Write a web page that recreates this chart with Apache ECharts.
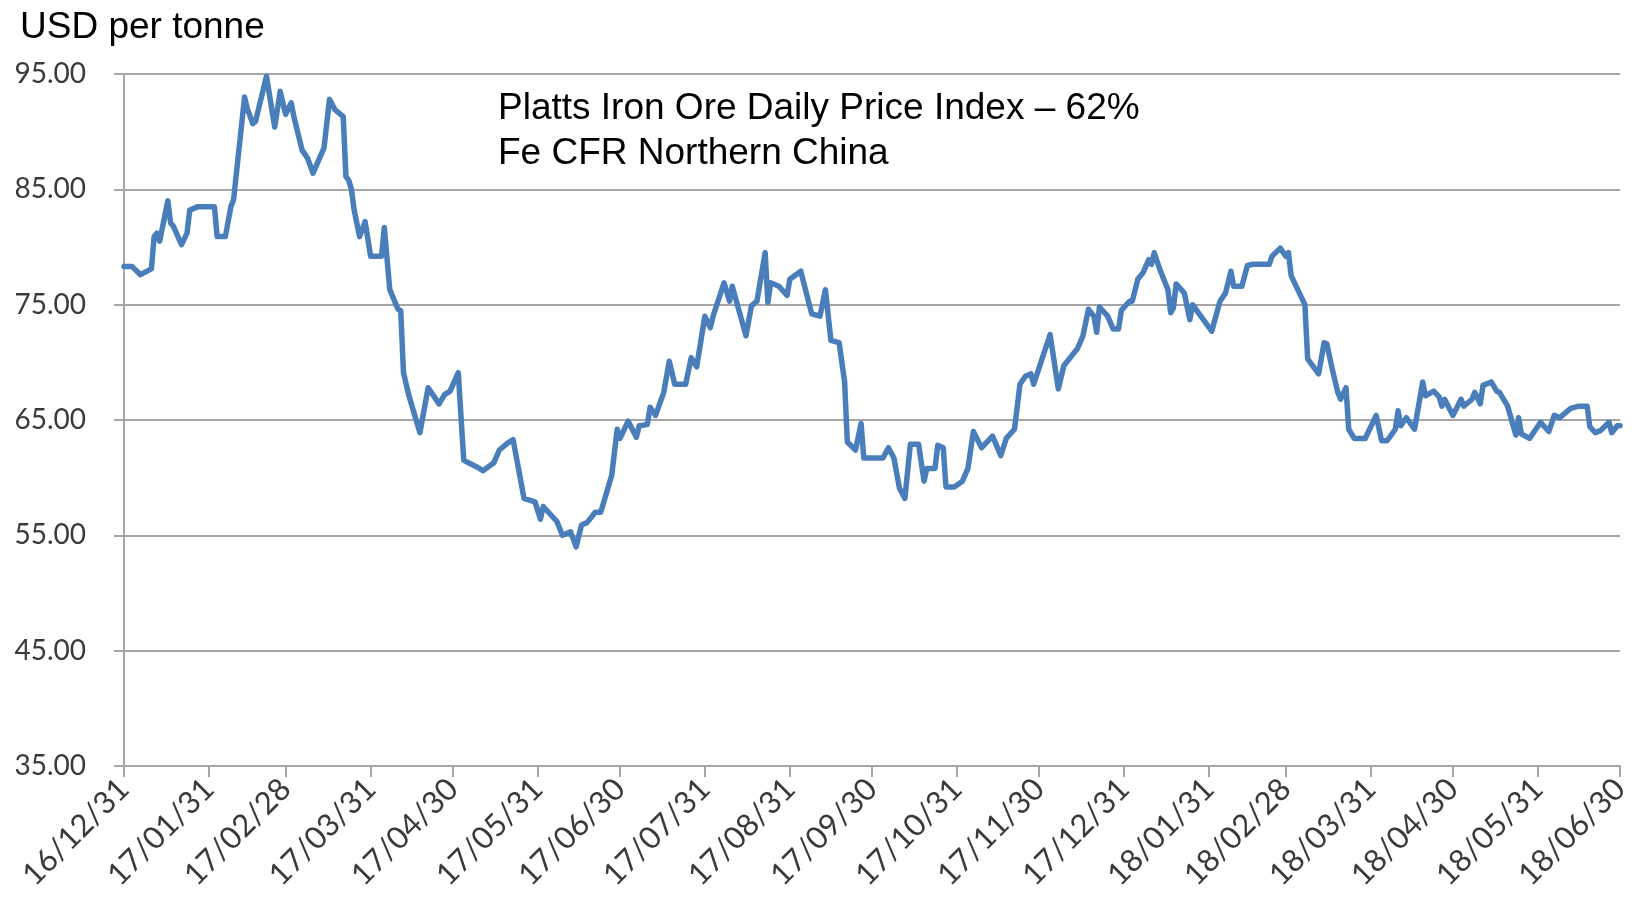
<!DOCTYPE html>
<html>
<head>
<meta charset="utf-8">
<title>Platts Iron Ore Daily Price Index</title>
<script src="https://cdn.jsdelivr.net/npm/echarts@6/dist/echarts.min.js"></script>
<style>
  html, body { margin: 0; padding: 0; background: #fff; }
  #main { width: 1642px; height: 907px; }
</style>
</head>
<body>
<div id="main"></div>
<script>
// month-end ticks on the x axis
var tickDates = [
    '2016-12-31', '2017-01-31', '2017-02-28', '2017-03-31', '2017-04-30', '2017-05-31',
    '2017-06-30', '2017-07-31', '2017-08-31', '2017-09-30', '2017-10-31', '2017-11-30',
    '2017-12-31', '2018-01-31', '2018-02-28', '2018-03-31', '2018-04-30', '2018-05-31',
    '2018-06-30'
];

// price points (USD per tonne)
var dates = [
    '2016-12-31', '2017-01-03', '2017-01-06', '2017-01-10', '2017-01-11', '2017-01-12', '2017-01-13',
    '2017-01-16', '2017-01-17', '2017-01-18', '2017-01-21', '2017-01-23', '2017-01-24', '2017-01-27',
    '2017-02-02', '2017-02-03', '2017-02-06', '2017-02-08', '2017-02-09', '2017-02-13', '2017-02-14',
    '2017-02-16', '2017-02-17', '2017-02-21', '2017-02-24', '2017-02-26', '2017-02-28', '2017-03-02',
    '2017-03-03', '2017-03-06', '2017-03-08', '2017-03-10', '2017-03-14', '2017-03-16', '2017-03-18',
    '2017-03-21', '2017-03-22', '2017-03-23', '2017-03-24', '2017-03-25', '2017-03-27', '2017-03-29',
    '2017-03-31', '2017-04-04', '2017-04-05', '2017-04-07', '2017-04-10', '2017-04-11', '2017-04-12',
    '2017-04-14', '2017-04-18', '2017-04-21', '2017-04-25', '2017-04-27', '2017-04-29', '2017-05-02',
    '2017-05-04', '2017-05-09', '2017-05-11', '2017-05-15', '2017-05-17', '2017-05-20', '2017-05-22',
    '2017-05-26', '2017-05-30', '2017-06-01', '2017-06-02', '2017-06-07', '2017-06-09', '2017-06-12',
    '2017-06-14', '2017-06-16', '2017-06-18', '2017-06-21', '2017-06-23', '2017-06-27', '2017-06-29',
    '2017-06-30', '2017-07-03', '2017-07-06', '2017-07-07', '2017-07-10', '2017-07-11', '2017-07-13',
    '2017-07-16', '2017-07-18', '2017-07-20', '2017-07-24', '2017-07-26', '2017-07-28', '2017-07-31',
    '2017-08-02', '2017-08-03', '2017-08-07', '2017-08-09', '2017-08-10', '2017-08-15', '2017-08-17',
    '2017-08-19', '2017-08-22', '2017-08-23', '2017-08-24', '2017-08-27', '2017-08-30', '2017-08-31',
    '2017-09-04', '2017-09-08', '2017-09-11', '2017-09-13', '2017-09-15', '2017-09-18', '2017-09-20',
    '2017-09-21', '2017-09-24', '2017-09-26', '2017-09-27', '2017-10-04', '2017-10-06', '2017-10-08',
    '2017-10-10', '2017-10-12', '2017-10-14', '2017-10-17', '2017-10-19', '2017-10-20', '2017-10-23',
    '2017-10-24', '2017-10-26', '2017-10-27', '2017-10-30', '2017-11-02', '2017-11-04', '2017-11-06',
    '2017-11-09', '2017-11-13', '2017-11-16', '2017-11-18', '2017-11-21', '2017-11-23', '2017-11-25',
    '2017-11-27', '2017-11-28', '2017-12-04', '2017-12-07', '2017-12-09', '2017-12-12', '2017-12-14',
    '2017-12-16', '2017-12-18', '2017-12-20', '2017-12-21', '2017-12-22', '2017-12-25', '2017-12-27',
    '2017-12-29', '2017-12-30', '2018-01-02', '2018-01-03', '2018-01-05', '2018-01-07', '2018-01-09',
    '2018-01-10', '2018-01-11', '2018-01-13', '2018-01-16', '2018-01-17', '2018-01-18', '2018-01-19',
    '2018-01-22', '2018-01-24', '2018-01-25', '2018-01-28', '2018-02-01', '2018-02-04', '2018-02-06',
    '2018-02-08', '2018-02-09', '2018-02-12', '2018-02-14', '2018-02-16', '2018-02-22', '2018-02-23',
    '2018-02-26', '2018-02-28', '2018-03-01', '2018-03-02', '2018-03-06', '2018-03-07', '2018-03-08',
    '2018-03-12', '2018-03-14', '2018-03-15', '2018-03-17', '2018-03-19', '2018-03-20', '2018-03-22',
    '2018-03-23', '2018-03-25', '2018-03-29', '2018-04-02', '2018-04-04', '2018-04-06', '2018-04-09',
    '2018-04-10', '2018-04-11', '2018-04-13', '2018-04-16', '2018-04-19', '2018-04-20', '2018-04-23',
    '2018-04-25', '2018-04-26', '2018-04-27', '2018-04-30', '2018-05-03', '2018-05-04', '2018-05-07',
    '2018-05-08', '2018-05-10', '2018-05-11', '2018-05-14', '2018-05-16', '2018-05-17', '2018-05-20',
    '2018-05-22', '2018-05-23', '2018-05-24', '2018-05-25', '2018-05-28', '2018-06-01', '2018-06-04',
    '2018-06-06', '2018-06-08', '2018-06-12', '2018-06-15', '2018-06-18', '2018-06-19', '2018-06-21',
    '2018-06-23', '2018-06-26', '2018-06-27', '2018-06-29', '2018-06-30'
];
var prices = [
    78.3, 78.3, 77.6, 78.1, 80.9, 81.2, 80.5,
    84.0, 82.1, 81.8, 80.2, 81.2, 83.2, 83.5,
    83.5, 80.9, 80.9, 83.5, 84.1, 93.0, 92.0,
    90.7, 90.9, 94.8, 90.4, 93.5, 91.5, 92.5,
    91.3, 88.4, 87.7, 86.4, 88.6, 92.8, 91.9,
    91.3, 86.1, 85.8, 85.0, 83.2, 80.9, 82.2,
    79.2, 79.2, 81.7, 76.3, 74.6, 74.5, 69.1,
    67.1, 63.9, 67.8, 66.4, 67.2, 67.5, 69.1,
    61.5, 60.9, 60.6, 61.3, 62.4, 63.0, 63.3,
    58.2, 57.9, 56.4, 57.5, 56.2, 55.0, 55.3,
    54.0, 55.9, 56.1, 57.0, 57.0, 60.2, 64.2,
    63.4, 64.9, 63.5, 64.5, 64.6, 66.1, 65.4,
    67.4, 70.1, 68.1, 68.1, 70.4, 69.6, 74.0,
    73.0, 74.0, 76.9, 75.3, 76.6, 72.3, 74.9,
    75.3, 79.5, 75.2, 76.9, 76.6, 75.8, 77.2,
    77.9, 74.2, 74.0, 76.3, 71.9, 71.7, 68.3,
    63.1, 62.4, 64.7, 61.7, 61.7, 62.6, 61.7,
    59.1, 58.2, 62.9, 62.9, 59.7, 60.8, 60.8,
    62.8, 62.6, 59.2, 59.2, 59.7, 60.8, 64.0,
    62.6, 63.6, 61.9, 63.4, 64.2, 68.1, 68.8,
    69.0, 68.1, 72.4, 67.7, 69.7, 70.6, 71.2,
    72.3, 74.6, 74.0, 72.6, 74.8, 74.0, 72.9,
    72.9, 74.5, 75.3, 75.3, 77.2, 77.8, 78.9,
    78.5, 79.5, 78.1, 76.3, 74.3, 74.7, 76.8,
    76.0, 73.7, 75.0, 74.0, 72.7, 75.3, 76.0,
    77.9, 76.6, 76.6, 78.4, 78.5, 78.5, 79.2,
    79.9, 79.2, 79.5, 77.5, 75.5, 75.0, 70.3,
    69.0, 71.7, 71.6, 69.4, 67.4, 66.8, 67.8,
    64.2, 63.4, 63.4, 65.4, 63.2, 63.2, 64.2,
    65.8, 64.5, 65.2, 64.2, 68.3, 67.1, 67.5,
    67.0, 66.2, 66.8, 65.4, 66.8, 66.2, 66.8,
    67.4, 66.4, 68.0, 68.3, 67.5, 67.4, 66.2,
    64.5, 63.7, 65.2, 63.8, 63.4, 64.8, 64.0,
    65.4, 65.2, 66.0, 66.2, 66.2, 64.4, 63.9,
    64.1, 64.8, 63.9, 64.5, 64.5
];

function toTime(s) {
    var p = s.split('-');
    return new Date(+p[0], +p[1] - 1, +p[2]).getTime();
}
function pad(n) { return (n < 10 ? '0' : '') + n; }

var seriesData = dates.map(function (d, i) { return [toTime(d), prices[i]]; });
var tickValues = tickDates.map(toTime);

var chartDom = document.getElementById('main');
var myChart = echarts.init(chartDom);
var option;

option = {
    animation: false,
    backgroundColor: '#ffffff',
    title: [{
        text: 'USD per tonne',
        left: 15,
        top: 4,
        textStyle: { fontFamily: 'Liberation Sans', fontSize: 37, fontWeight: 'normal', color: '#000' }
    }, {
        text: 'Platts Iron Ore Daily Price Index \u2013 62%\nFe CFR Northern China',
        left: 493,
        top: 81,
        textStyle: { fontFamily: 'Liberation Sans', fontSize: 37, fontWeight: 'normal', color: '#000', lineHeight: 45 }
    }],
    grid: {
        left: 124,
        right: 22,
        top: 74,
        bottom: 141
    },
    // dates are plotted as timestamps on a value axis so the ticks can sit on month ends
    xAxis: {
        type: 'value',
        min: tickValues[0],
        max: tickValues[tickValues.length - 1],
        splitLine: { show: false },
        axisLine: { lineStyle: { color: '#a6a6a6', width: 2 } },
        axisTick: {
            customValues: tickValues,
            length: 11,
            lineStyle: { color: '#a6a6a6', width: 2 }
        },
        axisLabel: {
            customValues: tickValues,
            rotate: 45,
            margin: 18,
            fontFamily: 'Lato',
            fontSize: 31,
            color: '#3a3a3a',
            formatter: function (value) {
                var d = new Date(value);
                return String(d.getFullYear()).slice(2) + '/' + pad(d.getMonth() + 1) + '/' + pad(d.getDate());
            }
        }
    },
    yAxis: {
        type: 'value',
        min: 35,
        max: 95,
        interval: 10,
        axisLine: { show: true, lineStyle: { color: '#a6a6a6', width: 2 } },
        axisTick: { show: true, length: 10, lineStyle: { color: '#a6a6a6', width: 2 } },
        splitLine: { lineStyle: { color: '#a6a6a6', width: 2 } },
        axisLabel: {
            margin: 38,
            fontFamily: 'Lato',
            fontSize: 28,
            color: '#3a3a3a',
            formatter: function (v) { return v.toFixed(2); }
        }
    },
    series: [{
        name: 'Price',
        type: 'line',
        data: seriesData,
        showSymbol: false,
        symbol: 'none',
        lineStyle: { color: '#4a7ebb', width: 5.5, join: 'round', cap: 'round' },
        itemStyle: { color: '#4a7ebb' }
    }]
};

option && myChart.setOption(option);
</script>
</body>
</html>
